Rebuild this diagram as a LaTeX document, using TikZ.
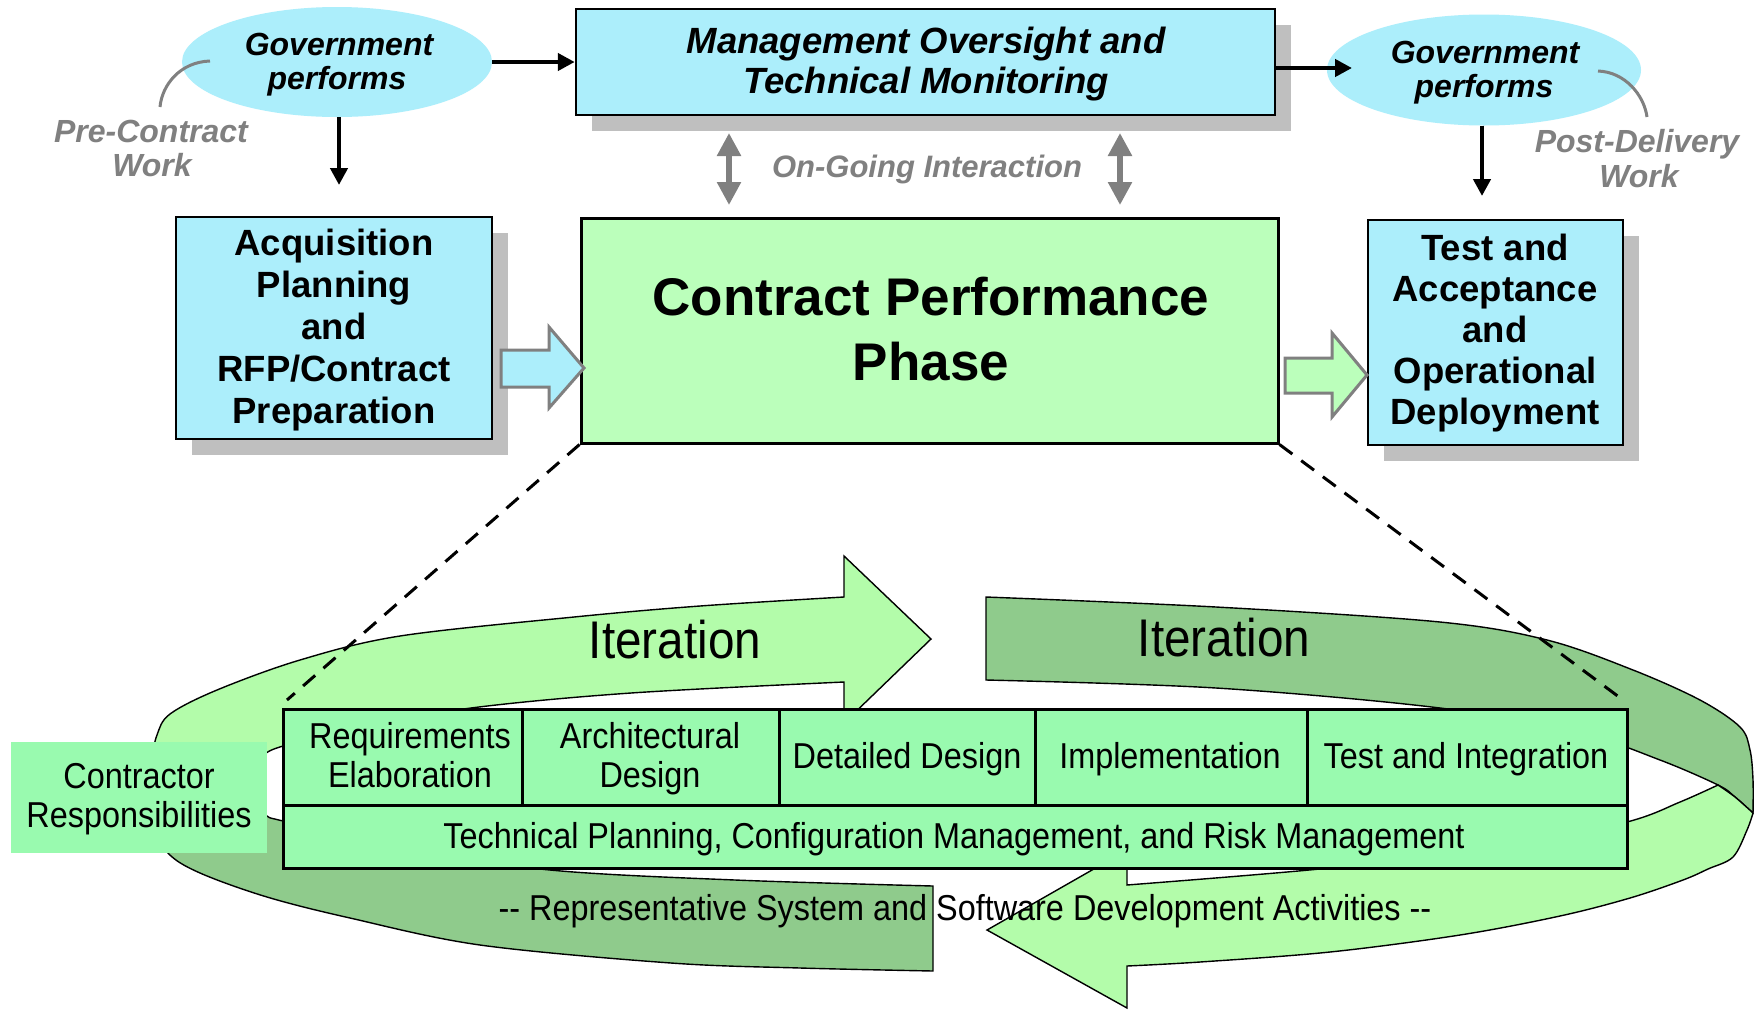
\documentclass[tikz,border=0pt]{standalone}
\usepackage{fontspec}
\setmainfont{Liberation Sans}
\newfontfamily\narrowfont[FakeStretch=0.9]{Liberation Sans}
\usetikzlibrary{arrows.meta,shapes.geometric,shadows}
\definecolor{govcyan}{RGB}{172,238,251}
\definecolor{cpgreen}{RGB}{187,255,187}
\definecolor{tabgreen}{RGB}{153,250,175}
\definecolor{lightband}{RGB}{179,252,170}
\definecolor{darkband}{RGB}{143,203,140}
\definecolor{shadowgray}{RGB}{191,191,191}
\definecolor{midgray}{RGB}{128,128,128}
\tikzset{
  bx/.style={rectangle, draw=black, line width=2.5pt, inner sep=0pt},
  shad/.style={drop shadow={shadow xshift=16pt, shadow yshift=-16pt, fill=shadowgray, opacity=1}},
  ell/.style={ellipse, fill=govcyan, inner sep=0pt},
  arr/.style={line width=4.5pt, -{Triangle[length=17pt,width=17pt]}},
  dbl/.style={draw=midgray, line width=5.5pt, {Triangle[length=23pt,width=23pt]}-{Triangle[length=23pt,width=23pt]}},
  leader/.style={draw=midgray, line width=3pt},
  blockarr/.style={draw=midgray, line width=3pt, line join=miter},
  band/.style={draw=black, line width=1.4pt},
  dashedline/.style={draw=black, line width=3pt, dash pattern=on 16pt off 11pt},
  cell/.style={rectangle, draw=black, line width=3pt, fill=tabgreen, inner sep=0pt},
  bi/.style={font=\fontsize{32}{34}\selectfont\bfseries\itshape, inner sep=0pt, anchor=base},
  bigr/.style={font=\fontsize{32}{34}\selectfont\bfseries\itshape, text=midgray, inner sep=0pt, anchor=base},
  mtext/.style={font=\fontsize{36.5}{42}\selectfont\bfseries\itshape, inner sep=0pt, anchor=base},
  btext/.style={font=\fontsize{36.5}{42}\selectfont\bfseries, inner sep=0pt, anchor=base},
  cptext/.style={font=\fontsize{53}{60}\selectfont\bfseries, inner sep=0pt, anchor=base},
  ltext/.style={font=\narrowfont\fontsize{36}{40}\selectfont, inner sep=0pt, anchor=base},
  itext/.style={font=\narrowfont\fontsize{53}{60}\selectfont, inner sep=0pt, anchor=base}
}
\begin{document}
\begin{tikzpicture}[x=1pt,y=-1pt]
\useasboundingbox (0,0) rectangle (1758,1010);
\fill[white] (0,0) rectangle (1758,1010);

% ---------- upper part ----------
\node[ell, minimum width=310pt, minimum height=110pt] (gov1) at (337,62) {};
\node[ell, minimum width=314pt, minimum height=111pt] (gov2) at (1484,70) {};
\node[bx, shad, fill=govcyan, minimum width=699pt, minimum height=106pt] (mgmt) at (925.5,62) {};
\node[bx, shad, fill=govcyan, minimum width=316pt, minimum height=222pt] (acq) at (334,328) {};
\node[bx, shad, fill=govcyan, minimum width=255pt, minimum height=225pt] (test) at (1495.5,332.5) {};
\node[bx, line width=3pt, fill=cpgreen, minimum width=697pt, minimum height=225pt] (cp) at (929.5,330.5) {};

% leaders
\draw[leader] (210,61) .. controls (180,62) and (162,85) .. (160,107);
\draw[leader] (1598,71) .. controls (1625,72) and (1644,95) .. (1647,117);

% black arrows
\coordinate (g2a) at (339,185);
\coordinate (m2g) at (1352,68);
\coordinate (g2t) at (1482,196);
\draw[arr] (gov1.east) -- (mgmt.west);
\draw[arr] (g2a |- gov1.south) -- (g2a);
\draw[arr] (mgmt.east |- m2g) -- (m2g);
\draw[arr] (g2t |- gov2.south) -- (g2t);

% gray double arrows
\coordinate (ia1) at (729,133);
\coordinate (ia2) at (729,205);
\coordinate (ib1) at (1120,133);
\coordinate (ib2) at (1120,205);
\draw[dbl] (ia1) -- (ia2);
\draw[dbl] (ib1) -- (ib2);

% block arrows
\draw[blockarr, fill=govcyan] (501,350) -- (549,350) -- (549,327) -- (584,368) -- (549,408) -- (549,387) -- (501,387) -- cycle;
\draw[blockarr, fill=cpgreen] (1285,358) -- (1332,358) -- (1332,333) -- (1367,375) -- (1332,417) -- (1332,393) -- (1285,393) -- cycle;

% upper texts
\node[bi] (g1a) at (339,55) {Government};
\node[bi] (g1b) at (337,89) {performs};
\node[bi] (g2a1) at (1485,63) {Government};
\node[bi] (g2b) at (1484,97) {performs};
\node[bigr] (pc1) at (151,142) {Pre-Contract};
\node[bigr] (pc2) at (152,176) {Work};
\node[bigr] (pd1) at (1637,152) {Post-Delivery};
\node[bigr] (pd2) at (1639,187) {Work};
\node[mtext] (mg1) at (926,53) {Management Oversight and};
\node[mtext] (mg2) at (926,93) {Technical Monitoring};
\node[bigr, font=\fontsize{31}{34}\selectfont\bfseries\itshape] (ogi) at (927,177) {On-Going Interaction};
\node[btext] (aq1) at (334,255) {Acquisition};
\node[btext] (aq2) at (334,297) {Planning};
\node[btext] (aq3) at (334,339) {and};
\node[btext] (aq4) at (334,381) {RFP/Contract};
\node[btext] (aq5) at (334,423) {Preparation};
\node[btext] (ts1) at (1495,260) {Test and};
\node[btext] (ts2) at (1495,301) {Acceptance};
\node[btext] (ts3) at (1495,342) {and};
\node[btext] (ts4) at (1495,383) {Operational};
\node[btext] (ts5) at (1495,424) {Deployment};
\node[cptext] (cp1) at (931,315) {Contract Performance};
\node[cptext] (cp2) at (931,380) {Phase};

% ---------- iteration bands ----------
% dark upper right
\draw[band, fill=darkband] plot[smooth, tension=0.55] coordinates {(986,597) (1216,607) (1440,622) (1547,640) (1633,670) (1700,700) (1740,727) (1750,750) (1753,780) (1753,813)}
  -- plot[smooth, tension=0.55] coordinates {(1753,813) (1735,797) (1718,785) (1660,760) (1580,733) (1440,708) (1216,688) (986,680)} -- cycle;
% dark lower left
\draw[band, fill=darkband] plot[smooth, tension=0.55] coordinates {(933,971) (800,968) (671,963) (480,945) (350,918) (267,897) (200,873) (168,853) (153,822) (150,792)}
  -- (240,792) -- plot[smooth, tension=0.55] coordinates {(240,792) (250,805) (267,816) (283,821) (400,848) (550,870) (735,880) (933,886)} -- cycle;
% light upper left arrow
\draw[band, fill=lightband] plot[smooth, tension=0.55] coordinates {(150,792) (152,760) (157,735) (170,714) (217,690) (300,660) (400,636) (574,617) (700,606) (844,597)}
  -- (844,556) -- (931,639) -- (844,723) -- (844,682)
  -- plot[smooth, tension=0.55] coordinates {(844,682) (631,693) (471,708) (350,729) (283,746) (262,756) (245,775) (240,792)} -- cycle;
% light lower right arrow
\draw[band, fill=lightband] plot[smooth, tension=0.55] coordinates {(1718,785) (1735,797) (1753,813)}
  -- plot[smooth, tension=0.55] coordinates {(1753,813) (1747,830) (1733,857) (1708,869) (1683,880) (1630,898) (1560,916) (1460,935) (1330,952) (1200,962) (1127,966)}
  -- (1127,1008) -- (987,930) -- (1127,850) -- (1127,885)
  -- plot[smooth, tension=0.55] coordinates {(1127,885) (1309,870) (1500,850) (1627,822) (1680,802) (1718,785)} -- cycle;

% dashed zoom lines
\coordinate (dl) at (287,700);
\coordinate (dr) at (1619,697);
\draw[dashedline] (cp.south west) -- (dl);
\draw[dashedline] (cp.south east) -- (dr);

% table
\node[cell, minimum width=239pt, minimum height=96pt] (c1) at (402.5,757) {};
\node[cell, minimum width=257pt, minimum height=96pt] (c2) at (650.5,757) {};
\node[cell, minimum width=256pt, minimum height=96pt] (c3) at (907,757) {};
\node[cell, minimum width=272pt, minimum height=96pt] (c4) at (1171,757) {};
\node[cell, minimum width=320pt, minimum height=96pt] (c5) at (1467,757) {};
\node[cell, minimum width=1344pt, minimum height=63pt] (c6) at (955,836.5) {};
\node[rectangle, fill=tabgreen, inner sep=0pt, minimum width=256pt, minimum height=111pt] (cr) at (139,797.5) {};

% lower texts
\node[itext] (it1) at (675,658) {Iteration};
\node[itext] (it2) at (1224,656) {Iteration};
\node[ltext] (t1a) at (410,748) {Requirements};
\node[ltext] (t1b) at (410,787) {Elaboration};
\node[ltext] (t2a) at (650,748) {Architectural};
\node[ltext] (t2b) at (650,787) {Design};
\node[ltext] (t3) at (907,768) {Detailed Design};
\node[ltext] (t4) at (1170,768) {Implementation};
\node[ltext] (t5) at (1466,768) {Test and Integration};
\node[ltext] (t6) at (954,848) {Technical Planning, Configuration Management, and Risk Management};
\node[ltext] (cr1) at (139,788) {Contractor};
\node[ltext] (cr2) at (139,827) {Responsibilities};
\node[ltext] (rep) at (965,920) {-- Representative System and Software Development Activities --};
\end{tikzpicture}
\end{document}
